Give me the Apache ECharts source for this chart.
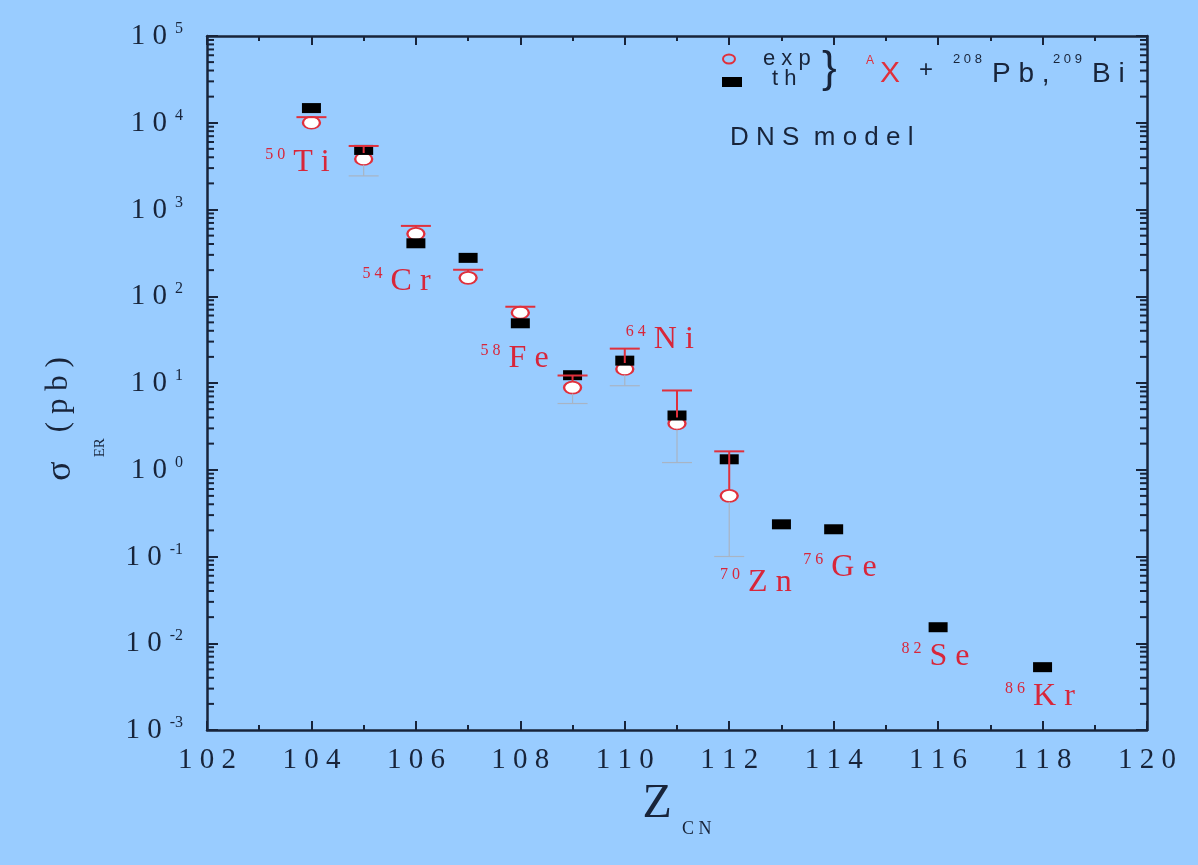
<!DOCTYPE html>
<html><head><meta charset="utf-8">
<script src="https://cdn.jsdelivr.net/npm/echarts@6/dist/echarts.min.js"></script>
<style>html,body{margin:0;padding:0;background:#99ccff}#c{width:1198px;height:865px}</style>
</head><body><div id="c"></div>
<script>
// ---- data ----
const zExp = [104, 105, 106, 107, 108, 109, 110, 111, 112];
const sigmaExp = [1.0e4, 3820, 524, 163, 64.6, 8.85, 14.5, 3.41, 0.50];
const sigmaExpUp = [11600, 5400, 647, 202, 75.7, 12.2, 24.9, 8.2, 1.63];
const sigmaExpLow = [null, 2440, null, null, null, 5.8, 9.3, 1.21, 0.10];
const zTh = [104, 105, 106, 107, 108, 109, 110, 111, 112, 113, 114, 116, 118];
const sigmaTh = [14760, 4860, 408, 277, 48.8, 12.3, 18.1, 4.22, 1.32, 0.235, 0.206, 0.0153, 0.0053];
const projMass = ['50', '54', '58', '64', '70', '76', '82', '86'];
const projSym = ['Ti', 'Cr', 'Fe', 'Ni', 'Zn', 'Ge', 'Se', 'Kr'];
const labelZ = [103.73, 105.63, 107.89, 110.67, 112.51, 114.12, 115.95, 117.95];
const labelSigma = [3480, 146, 18.9, 31.3, 0.0501, 0.0746, 0.00693, 0.0024];
const yDecades = [-3, -2, -1, 0, 1, 2, 3, 4];
const yMinorMult = [2, 3, 4, 5, 6, 7, 8, 9];

const NAVY = '#18243a';
const RED = '#d8263a';
const SERIF = '"Liberation Serif", "Times New Roman", serif';
const SANS = '"Liberation Sans", Arial, sans-serif';
const spaced = s => String(s).split('').join(' ');

const yMinorTicks = [];
yDecades.forEach(d => yMinorMult.forEach(m => yMinorTicks.push([110, m * Math.pow(10, d)])));

const chart = echarts.init(document.getElementById('c'));

const xBase = {
  type: 'value', min: 102, max: 120, interval: 2,
  axisLine: { show: true, onZero: false, lineStyle: { color: NAVY, width: 2.5 } },
  axisTick: { show: true, inside: true, length: 9, lineStyle: { color: NAVY, width: 2 } },
  minorTick: { show: true, splitNumber: 2, length: 5, lineStyle: { color: NAVY, width: 2 } },
  splitLine: { show: false }, minorSplitLine: { show: false }
};
const yBase = {
  type: 'log', logBase: 10, min: 0.001, max: 100000, splitNumber: 8,
  axisLine: { show: true, onZero: false, lineStyle: { color: NAVY, width: 2.5 } },
  axisTick: { show: true, inside: true, length: 11, lineStyle: { color: NAVY, width: 2 } },
  splitLine: { show: false }
};

chart.setOption({
  backgroundColor: '#99ccff',
  animation: false,
  grid: { left: 207, right: 51, top: 36, bottom: 135, containLabel: false },
  xAxis: [
    Object.assign({}, xBase, {
      position: 'bottom',
      axisLabel: {
        show: true, margin: 16, color: NAVY, fontFamily: SERIF, fontSize: 29,
        formatter: v => spaced(v)
      },
      name: '{z|Z}{c|C N}', nameLocation: 'middle', nameGap: 45,
      nameTextStyle: {
        color: NAVY, fontFamily: SERIF,
        rich: {
          z: { fontSize: 48, fontFamily: SERIF, color: NAVY, lineHeight: 48, verticalAlign: 'top' },
          c: { fontSize: 18, fontFamily: SERIF, color: NAVY, lineHeight: 18, verticalAlign: 'top', padding: [40, 0, 0, 10] }
        }
      }
    }),
    Object.assign({}, xBase, { position: 'top', axisLabel: { show: false } })
  ],
  yAxis: [
    Object.assign({}, yBase, {
      position: 'left',
      axisLabel: {
        show: true, margin: 24, color: NAVY,
        formatter: v => {
          const e = Math.round(Math.log10(v));
          return '{b|1 0}{e|' + e + '}';
        },
        rich: {
          b: { fontSize: 29, fontFamily: SERIF, color: NAVY, lineHeight: 30, verticalAlign: 'bottom' },
          e: { fontSize: 16, fontFamily: SERIF, color: NAVY, lineHeight: 16, verticalAlign: 'top', padding: [0, 0, 0, 8] }
        }
      },
      name: '{s|σ}{r|ER}{p|( p b )}', nameLocation: 'middle', nameRotate: 90, nameGap: 124,
      nameTextStyle: {
        color: NAVY, padding: [0, 72, 0, 0],
        rich: {
          s: { fontSize: 36, fontFamily: SERIF, color: NAVY, lineHeight: 40, verticalAlign: 'top' },
          r: { fontSize: 15, fontFamily: SERIF, color: NAVY, lineHeight: 15, verticalAlign: 'top', padding: [50, 6, 0, 4] },
          p: { fontSize: 31, fontFamily: SERIF, color: NAVY, lineHeight: 40, verticalAlign: 'top' }
        }
      }
    }),
    Object.assign({}, yBase, { position: 'right', axisLabel: { show: false } })
  ],
  graphic: [
    { type: 'ellipse', shape: { cx: 729, cy: 59, rx: 6, ry: 4.5 }, style: { fill: 'none', stroke: '#e0303c', lineWidth: 2 } },
    { type: 'rect', shape: { x: 722, y: 77, width: 20, height: 10 }, style: { fill: '#000' } },
    { type: 'text', x: 763, y: 59, style: { text: 'e x p', font: '22px ' + SANS, fill: NAVY, verticalAlign: 'middle' } },
    { type: 'text', x: 772, y: 79, style: { text: 't h', font: '22px ' + SANS, fill: NAVY, verticalAlign: 'middle' } },
    { type: 'text', x: 822, y: 70, style: { text: '}', font: '44px ' + SANS, fill: NAVY, verticalAlign: 'middle' } },
    { type: 'text', x: 866, y: 55, style: { text: 'A', font: '12px ' + SANS, fill: '#e0303c', verticalAlign: 'top' } },
    { type: 'text', x: 880, y: 74, style: { text: 'X', font: '30px ' + SANS, fill: '#e0303c', verticalAlign: 'middle' } },
    { type: 'text', x: 919, y: 70, style: { text: '+', font: '24px ' + SANS, fill: NAVY, verticalAlign: 'middle' } },
    { type: 'text', x: 953, y: 53, style: { text: '2 0 8', font: '13px ' + SANS, fill: NAVY, verticalAlign: 'top' } },
    { type: 'text', x: 992, y: 74, style: { text: 'P b ,', font: '28px ' + SANS, fill: NAVY, verticalAlign: 'middle' } },
    { type: 'text', x: 1053, y: 53, style: { text: '2 0 9', font: '13px ' + SANS, fill: NAVY, verticalAlign: 'top' } },
    { type: 'text', x: 1092, y: 74, style: { text: 'B i', font: '28px ' + SANS, fill: NAVY, verticalAlign: 'middle' } },
    { type: 'text', x: 730, y: 138, style: { text: 'D N S  m o d e l', font: '26px ' + SANS, fill: NAVY, verticalAlign: 'middle' } }
  ],
  series: [
    {
      name: 'y minor ticks', type: 'custom', xAxisIndex: 0, yAxisIndex: 0, silent: true, clip: false, z: 7,
      data: yMinorTicks,
      renderItem: (params, api) => {
        const v = api.value(1);
        const l = api.coord([102, v]);
        const r = api.coord([120, v]);
        const st = { stroke: NAVY, lineWidth: 2 };
        return { type: 'group', children: [
          { type: 'line', shape: { x1: l[0], y1: l[1], x2: l[0] + 7, y2: l[1] }, style: st },
          { type: 'line', shape: { x1: r[0] - 7, y1: r[1], x2: r[0], y2: r[1] }, style: st }
        ] };
      }
    },
    {
      name: 'exp', type: 'scatter', xAxisIndex: 0, yAxisIndex: 0, z: 3,
      symbol: 'circle', symbolSize: [17, 12],
      itemStyle: { color: '#ffffff', borderColor: '#e0303c', borderWidth: 2, opacity: 1 },
      data: zExp.map((z, i) => [z, sigmaExp[i]])
    },
    {
      name: 'th', type: 'scatter', xAxisIndex: 0, yAxisIndex: 0, z: 4,
      symbol: 'rect', symbolSize: [19, 10],
      itemStyle: { color: '#000000', opacity: 1 },
      data: zTh.map((z, i) => [z, sigmaTh[i]])
    },
    {
      name: 'exp error', type: 'custom', xAxisIndex: 0, yAxisIndex: 0, silent: true, clip: false, z: 5,
      data: zExp.map((z, i) => [z, sigmaExp[i], sigmaExpUp[i], sigmaExpLow[i] == null ? '-' : sigmaExpLow[i]]),
      renderItem: (params, api) => {
        const z = api.value(0), v = api.value(1), up = api.value(2), lo = api.value(3);
        const p = api.coord([z, v]);
        const half = 15;
        const ch = [];
        if (up != null && !isNaN(up)) {
          const pu = api.coord([z, up]);
          const red = { stroke: '#e0303c', lineWidth: 2 };
          if (pu[1] < p[1] - 6) ch.push({ type: 'line', shape: { x1: p[0], y1: p[1] - 6, x2: p[0], y2: pu[1] }, style: red });
          ch.push({ type: 'line', shape: { x1: p[0] - half, y1: pu[1], x2: p[0] + half, y2: pu[1] }, style: red });
        }
        if (lo != null && !isNaN(lo) && lo > 0) {
          const pl = api.coord([z, lo]);
          const grey = { stroke: '#a8b4c4', lineWidth: 1.2 };
          ch.push({ type: 'line', shape: { x1: p[0], y1: p[1] + 6, x2: p[0], y2: pl[1] }, style: grey });
          ch.push({ type: 'line', shape: { x1: p[0] - half, y1: pl[1], x2: p[0] + half, y2: pl[1] }, style: grey });
        }
        return { type: 'group', children: ch };
      }
    },
    {
      name: 'projectile', type: 'scatter', xAxisIndex: 0, yAxisIndex: 0, z: 6, silent: true,
      symbol: 'circle', symbolSize: 2, itemStyle: { color: 'rgba(0,0,0,0)', opacity: 1 },
      data: labelZ.map((z, i) => ({ value: [z, labelSigma[i]], name: projMass[i] + '|' + projSym[i] })),
      label: {
        show: true, position: 'inside', opacity: 1,
        formatter: p => {
          const parts = p.name.split('|');
          return '{s|' + spaced(parts[0]) + '}{m| ' + spaced(parts[1]) + '}';
        },
        rich: {
          s: { fontSize: 16, fontFamily: SERIF, color: RED, lineHeight: 14, verticalAlign: 'top' },
          m: { fontSize: 32, fontFamily: SERIF, color: RED, lineHeight: 32, verticalAlign: 'bottom' }
        }
      },
      labelLayout: { hideOverlap: false }
    }
  ]
});
</script>
</body></html>
